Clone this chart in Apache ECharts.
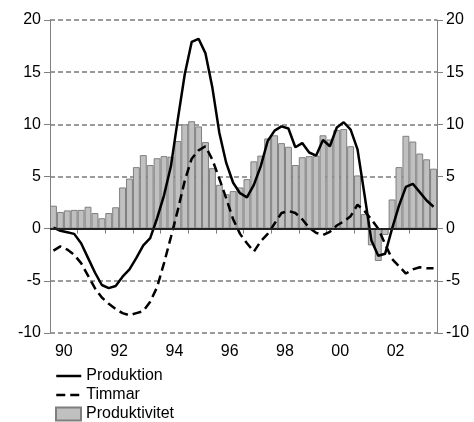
<!DOCTYPE html>
<html>
<head>
<meta charset="utf-8">
<script src="https://cdn.jsdelivr.net/npm/echarts@6/dist/echarts.min.js"></script>
<style>
  html, body { margin: 0; padding: 0; background: #fff; }
  #chart { width: 474px; height: 422px; }
</style>
</head>
<body>
<div id="chart"></div>
<script>
// kvartal 1990K1 – 2003K4
const years = ["90", "91", "92", "93", "94", "95", "96", "97", "98", "99", "00", "01", "02", "03"];
const quarters = [];
years.forEach(y => { for (let q = 1; q <= 4; q++) quarters.push(y + "K" + q); });

const produktivitet = [
  2.2, 1.6, 1.75, 1.8, 1.8, 2.1, 1.5, 1.0, 1.5, 2.05,
  3.95, 4.8, 5.9, 7.05, 6.1, 6.75, 6.95, 6.9, 8.4, 10.0,
  10.3, 9.8, 8.3, 5.8, 4.2, 3.3, 3.6, 3.95, 4.75, 6.45,
  7.0, 8.65, 8.95, 8.2, 7.85, 6.1, 6.85, 6.95, 7.0, 8.95,
  8.55, 9.45, 9.55, 7.9, 5.1, 1.4, -1.6, -3.1, -0.6, 2.8,
  5.9, 8.9, 8.35, 7.2, 6.65, 5.75
];

const produktion = [
  0.1, -0.2, -0.35, -0.5, -1.4, -2.8, -4.2, -5.4, -5.7, -5.5,
  -4.6, -3.9, -2.8, -1.6, -0.9, 1.0, 3.2, 6.0, 10.5, 14.8,
  17.9, 18.2, 16.8, 13.5, 9.2, 6.3, 4.4, 3.4, 3.0, 4.2,
  6.0, 8.4, 9.4, 9.8, 9.6, 7.8, 8.2, 7.3, 7.0, 8.5,
  7.9, 9.7, 10.2, 9.5, 7.6, 3.3, -1.1, -2.6, -2.4, 0.0,
  2.2, 4.0, 4.3, 3.5, 2.7, 2.1
];

const timmar = [
  -2.1, -1.7, -2.0, -2.5, -3.3, -4.5, -5.7, -6.6, -7.2, -7.7,
  -8.1, -8.3, -8.1, -7.9, -7.0, -5.6, -3.3, -0.8, 1.8, 4.6,
  6.7, 7.5, 7.9, 6.6, 4.8, 2.9, 0.9, -0.5, -1.4, -2.2,
  -1.2, -0.5, 0.5, 1.5, 1.7, 1.5, 0.9, 0.1, -0.4, -0.6,
  -0.3, 0.3, 0.7, 1.2, 2.3, 1.7, 0.9, 0.0, -1.5, -2.9,
  -3.6, -4.3, -3.9, -3.7, -3.8, -3.8
];

const yMin = -10, yMax = 20, yStep = 5;

const font = "'Liberation Sans', Arial, sans-serif";
const axisGrey = "#808080";
const dash = [9, 5];

const chart = echarts.init(document.getElementById("chart"));

function yAxis(position, withGrid) {
  return {
    type: "value",
    position,
    min: yMin,
    max: yMax,
    interval: yStep,
    axisLine: { show: true, lineStyle: { color: axisGrey, width: 1 } },
    axisTick: { show: true, length: 6, lineStyle: { color: axisGrey } },
    axisLabel: { color: "#000", fontFamily: font, fontSize: 16, margin: 9 },
    splitLine: {
      show: withGrid,
      lineStyle: { color: "#7a7a7a", width: 1.5, type: [5, 3] }
    }
  };
}

// one legend per row, so the column never wraps
function legendRow(top, item) {
  return {
    orient: "vertical",
    left: 55,
    top,
    padding: 0,
    itemWidth: 25,
    itemHeight: 13,
    data: [item],
    textStyle: { color: "#000", fontFamily: font, fontSize: 16 }
  };
}

chart.setOption({
  animation: false,
  grid: { left: 50, right: 37, top: 20, bottom: 89 },
  legend: [
    legendRow(368, { name: "Produktion", itemStyle: { opacity: 0 }, lineStyle: { width: 2.5 } }),
    legendRow(387, { name: "Timmar", itemStyle: { opacity: 0 }, lineStyle: { width: 2.5, type: dash } }),
    legendRow(406, { name: "Produktivitet", icon: "rect" })
  ],
  xAxis: [
    {
      type: "category",
      data: quarters,
      axisLine: { lineStyle: { color: axisGrey } },
      axisTick: { show: true, interval: 3, length: 5, lineStyle: { color: axisGrey } },
      axisLabel: { show: false }
    },
    {
      type: "category",
      data: years,
      position: "bottom",
      axisLine: { show: false },
      axisTick: { show: false },
      axisLabel: { interval: 1, color: "#000", fontFamily: font, fontSize: 16, margin: 11 }
    }
  ],
  yAxis: [yAxis("left", true), yAxis("right", false)],
  series: [
    {
      name: "Produktivitet",
      type: "bar",
      data: produktivitet,
      barCategoryGap: "0%",
      itemStyle: { color: "#c0c0c0", borderColor: "#7f7f7f", borderWidth: 1 },
      markLine: {
        silent: true,
        symbol: "none",
        label: { show: false },
        lineStyle: { color: "#222", width: 2, type: "solid" },
        data: [{ yAxis: 0 }]
      }
    },
    {
      name: "Produktion",
      type: "line",
      data: produktion,
      symbol: "none",
      lineStyle: { color: "#000", width: 2.5 },
      itemStyle: { color: "#000" },
      z: 4
    },
    {
      name: "Timmar",
      type: "line",
      data: timmar,
      symbol: "none",
      lineStyle: { color: "#000", width: 2.5, type: dash },
      itemStyle: { color: "#000" },
      z: 4
    }
  ]
});
</script>
</body>
</html>
